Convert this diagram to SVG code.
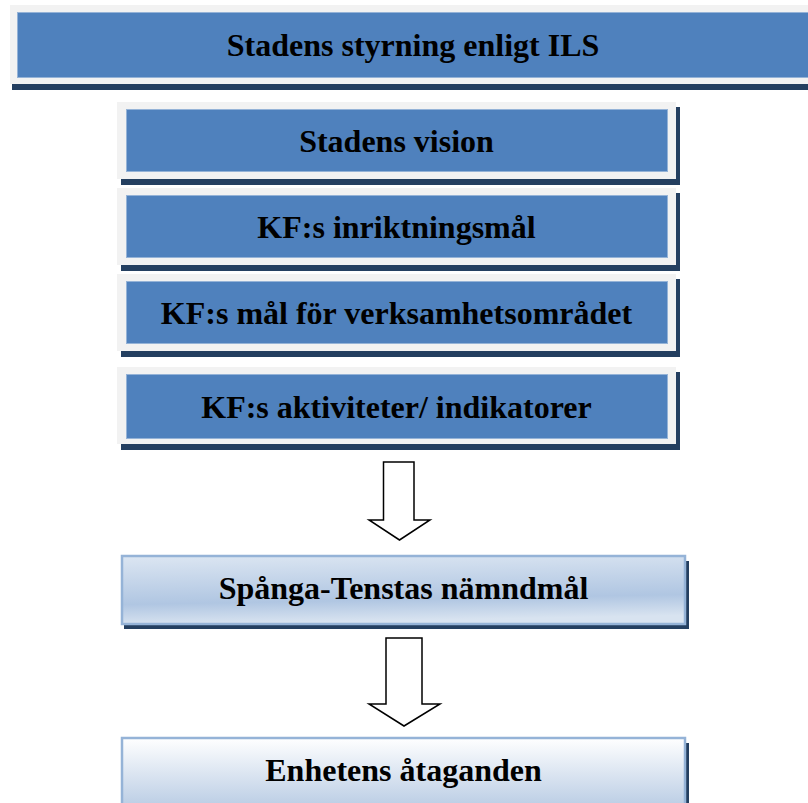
<svg xmlns="http://www.w3.org/2000/svg" width="808" height="803" viewBox="0 0 808 803">
<defs>
<style>
.sh{fill:#243f60}
.fr{fill:#f2f2f2}
.bl{fill:#4f81bd;stroke:#95b3d7;stroke-width:1}
.lb{stroke:#95b3d7;stroke-width:2.5}
.t{font-family:"Liberation Serif","Times New Roman",serif;font-weight:bold;font-size:32px;fill:#000;text-anchor:middle}
.ar{fill:#fff;stroke:#000;stroke-width:1.5;stroke-linejoin:miter}
</style>
<linearGradient id="g1" x1="0" y1="0" x2="0.15" y2="1">
<stop offset="0" stop-color="#dce6f2"/>
<stop offset="0.7" stop-color="#b0c6e2"/>
<stop offset="1" stop-color="#d8e3f0"/>
</linearGradient>
<linearGradient id="g2" x1="0" y1="0" x2="0" y2="1">
<stop offset="0" stop-color="#ffffff"/>
<stop offset="1" stop-color="#b9cce4"/>
</linearGradient>
</defs>
<rect width="808" height="803" fill="#fff"/>
<g id="n1">
<rect class="sh" x="12" y="84" width="800" height="6"/>
<rect class="fr" x="10" y="5" width="806" height="79"/>
<rect class="bl" x="17.5" y="12.5" width="792" height="65"/>
<text class="t" x="413" y="56">Stadens styrning enligt ILS</text>
</g>
<g id="n2">
<rect class="sh" x="121" y="107" width="559" height="78"/>
<rect class="fr" x="117" y="102" width="559" height="77"/>
<rect class="bl" x="126.5" y="109.5" width="541" height="62"/>
<text class="t" x="396.5" y="152">Stadens vision</text>
</g>
<g id="n3">
<rect class="sh" x="121" y="193" width="559" height="78"/>
<rect class="fr" x="117" y="188" width="559" height="77"/>
<rect class="bl" x="126.5" y="195.5" width="541" height="62"/>
<text class="t" x="396.5" y="238">KF:s inriktningsmål</text>
</g>
<g id="n4">
<rect class="sh" x="121" y="279" width="559" height="78"/>
<rect class="fr" x="117" y="274" width="559" height="77"/>
<rect class="bl" x="126.5" y="281.5" width="541" height="62"/>
<text class="t" x="396.5" y="324">KF:s mål för verksamhetsområdet</text>
</g>
<g id="n5">
<rect class="sh" x="121" y="372" width="559" height="78"/>
<rect class="fr" x="117" y="367" width="559" height="77"/>
<rect class="bl" x="126.5" y="374.5" width="541" height="64"/>
<text class="t" x="396.5" y="418">KF:s aktiviteter/ indikatorer</text>
</g>
<g id="n6">
<rect class="sh" x="124" y="561" width="565" height="68"/>
<rect class="lb" x="122" y="556" width="563" height="68" fill="url(#g1)"/>
<text class="t" x="403.5" y="599">Spånga-Tenstas nämndmål</text>
</g>
<g id="n7">
<rect class="sh" x="124" y="743" width="565" height="70"/>
<rect class="lb" x="122" y="738" width="563" height="70" fill="url(#g2)"/>
<text class="t" x="403.5" y="781">Enhetens åtaganden</text>
</g>
<g id="connectors">
<polygon class="ar" points="383.5,462 414,462 414,520 430,520 399.5,540 369,520 383.5,520"/>
<polygon class="ar" points="386,638 422,638 422,704 440,704 404,726 369,704 386,704"/>
</g>
</svg>
